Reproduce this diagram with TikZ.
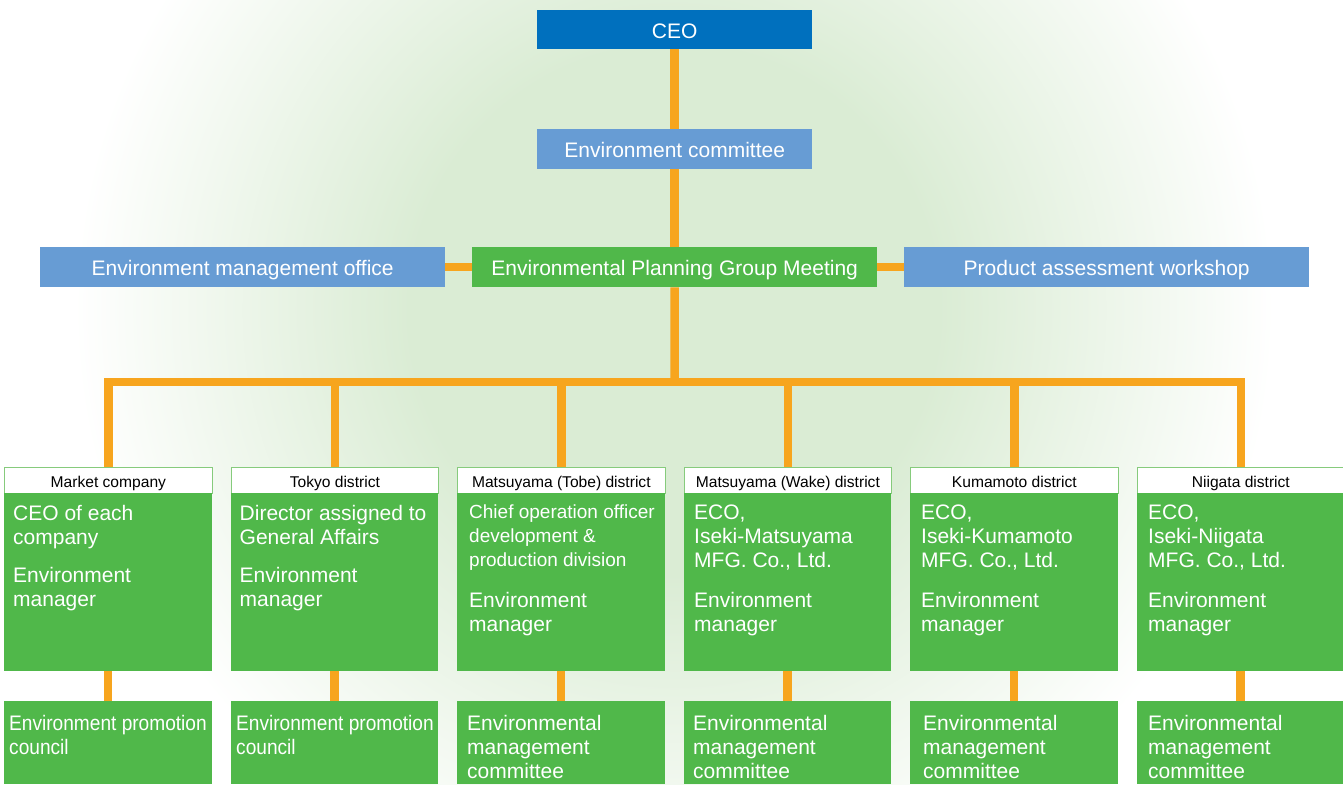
\documentclass[tikz,border=0pt]{standalone}
\usepackage{fontspec}
\setmainfont{Liberation Sans}
\usepackage{graphicx}
\definecolor{bgglow}{HTML}{DAECD4}
\definecolor{dkblue}{HTML}{0070BE}
\definecolor{ltblue}{HTML}{679CD4}
\definecolor{grn}{HTML}{50B84A}
\definecolor{hdrgrn}{HTML}{86CB7C}
\definecolor{orng}{HTML}{F7A51E}
\pgfdeclareradialshading{glow}{\pgfpoint{0bp}{0bp}}{color(0bp)=(bgglow); color(11bp)=(bgglow); color(25bp)=(white); color(50bp)=(white)}
\newcommand\smf{\fontsize{19}{24}\selectfont}
\newcommand\cmp[1]{\scalebox{0.91}[1]{#1}}
\begin{document}
\begin{tikzpicture}[x=1pt,y=-1pt,
  topbox/.style={rectangle, inner sep=0pt, anchor=north west, text=white,
     font=\fontsize{21}{24}\selectfont, text height=17pt, text depth=0pt},
  darkbox/.style={topbox, fill=dkblue},
  bluebox/.style={topbox, fill=ltblue},
  greenbox/.style={topbox, fill=grn},
  hdr/.style={rectangle, draw=hdrgrn, line width=1.2pt, fill=white, inner sep=0pt,
     minimum width=207.5pt, minimum height=26pt, anchor=north west,
     font=\fontsize{15.6}{18}\selectfont, text=black, text height=14pt, text depth=0pt},
  body/.style={rectangle, fill=grn, inner sep=0pt, minimum width=207.5pt,
     minimum height=178pt, anchor=north west},
  low/.style={rectangle, fill=grn, inner sep=0pt, minimum width=207.5pt,
     minimum height=83pt, anchor=north west},
  txt/.style={anchor=north west, inner sep=0pt, align=left, text=white,
     font=\fontsize{21}{24}\selectfont},
  conn/.style={draw=orng, line width=8.5pt}
]
\useasboundingbox (0,0) rectangle (1343,784);
\begin{scope}
  \clip (0,0) rectangle (1343,784);
  \shade[shading=glow] (674,310) circle[radius=600pt];
\end{scope}

% top nodes
\node[darkbox, minimum width=275pt, minimum height=39pt] (ceo) at (537,10) {CEO};
\node[bluebox, minimum width=275pt, minimum height=40pt] (comm) at (537,129) {Environment committee};
\node[greenbox, minimum width=405pt, minimum height=40pt] (epgm) at (472,247) {Environmental Planning Group Meeting};
\node[bluebox, minimum width=405pt, minimum height=40pt] (emo) at (40,247) {Environment management office};
\node[bluebox, minimum width=405pt, minimum height=40pt] (paw) at (904,247) {Product assessment workshop};

% columns
\node[hdr] (h1) at (4,467) {Market company};
\node[hdr] (h2) at (230.5,467) {Tokyo district};
\node[hdr] (h3) at (457,467) {Matsuyama (Tobe) district};
\node[hdr] (h4) at (683.5,467) {Matsuyama (Wake) district};
\node[hdr] (h5) at (910,467) {Kumamoto district};
\node[hdr] (h6) at (1136.5,467) {Niigata district};

\node[body] (b1) at (4,493) {};
\node[body] (b2) at (230.5,493) {};
\node[body] (b3) at (457,493) {};
\node[body] (b4) at (683.5,493) {};
\node[body] (b5) at (910,493) {};
\node[body] (b6) at (1136.5,493) {};

\node[low] (l1) at (4,701) {};
\node[low] (l2) at (230.5,701) {};
\node[low] (l3) at (457,701) {};
\node[low] (l4) at (683.5,701) {};
\node[low] (l5) at (910,701) {};
\node[low] (l6) at (1136.5,701) {};

% body texts
\node[txt] (t1) at (13,505) {CEO of each\\company\\[14pt]Environment\\manager};
\node[txt] (t2) at (239.5,505) {Director assigned to\\General Affairs\\[14pt]Environment\\manager};
\node[txt] (t3) at (469,505) {\smf Chief operation officer\\\smf development \&\\\smf production division\\[17pt]Environment\\manager};
\node[txt] (t4) at (694,505) {ECO,\\Iseki-Matsuyama\\MFG. Co., Ltd.\\[16pt]Environment\\manager};
\node[txt] (t5) at (921,505) {ECO,\\Iseki-Kumamoto\\MFG. Co., Ltd.\\[16pt]Environment\\manager};
\node[txt] (t6) at (1148,505) {ECO,\\Iseki-Niigata\\MFG. Co., Ltd.\\[16pt]Environment\\manager};

\node[txt] (u1) at (9,715) {\cmp{Environment promotion}\\\cmp{council}};
\node[txt] (u2) at (236,715) {\cmp{Environment promotion}\\\cmp{council}};
\node[txt] (u3) at (467,715) {Environmental\\management\\committee};
\node[txt] (u4) at (693,715) {Environmental\\management\\committee};
\node[txt] (u5) at (923,715) {Environmental\\management\\committee};
\node[txt] (u6) at (1148,715) {Environmental\\management\\committee};

% connectors
\coordinate (busL) at (108,382);
\coordinate (busR) at (1240.5,382);
\coordinate (busM) at (674.5,382);
\draw[conn] (ceo) -- (comm);
\draw[conn] (comm) -- (epgm);
\draw[conn] (emo) -- (epgm);
\draw[conn] (epgm) -- (paw);
\draw[conn] (epgm.south) -- (busM);
\draw[conn, line cap=rect] (busL) -- (busR);
\foreach \k in {1,...,6}{
  \draw[conn] (h\k.north) -- (h\k.north |- busL);
  \draw[conn] (b\k.south) -- (l\k.north);
}
\end{tikzpicture}
\end{document}
